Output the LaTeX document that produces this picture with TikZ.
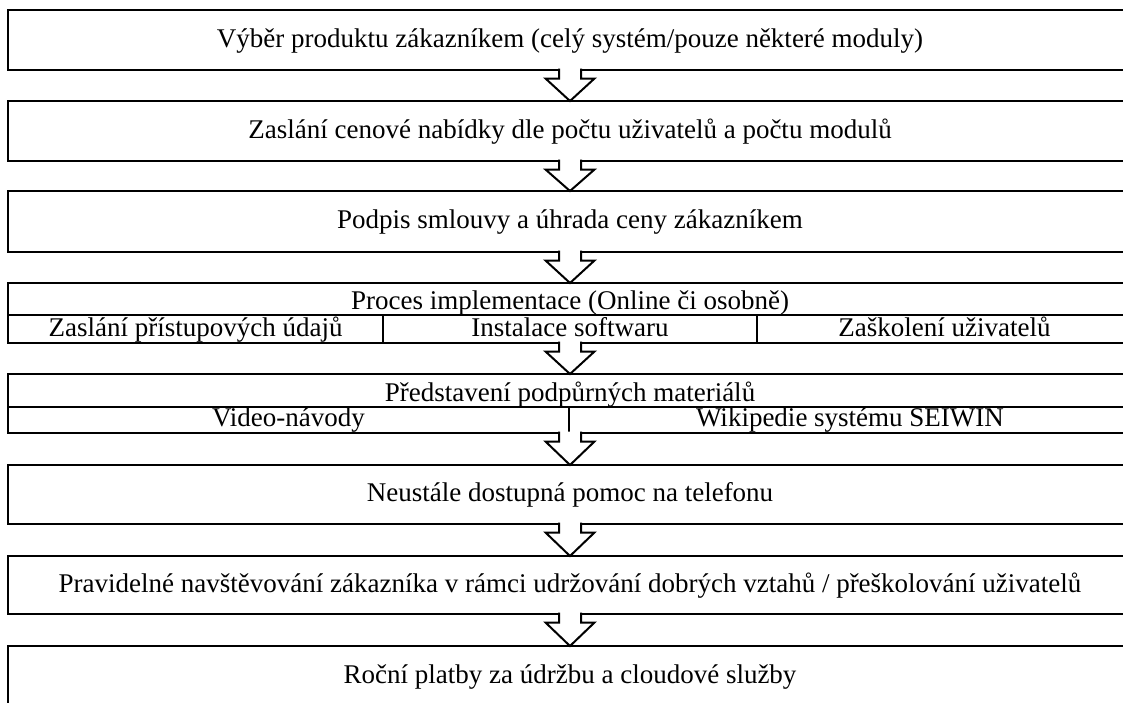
\documentclass[tikz,border=0pt]{standalone}
\usepackage{fontspec}
\setmainfont{Liberation Serif}
\usetikzlibrary{calc}
\tikzset{
  box/.style={draw, line width=2pt, minimum width=1124pt, minimum height=60pt,
    anchor=north west, inner sep=0pt, outer sep=0pt,
    font=\fontsize{27}{32}\selectfont, text height=20pt, text depth=5.4pt},
  lbl/.style={inner sep=0pt, outer sep=0pt, anchor=base, font=\fontsize{27}{32}\selectfont},
  rule/.style={line width=2pt},
  blockarrow/.style={draw, fill=white, line width=2pt, miter limit=10},
}
\newcommand{\flowarrow}[2]{%
  \draw[blockarrow] ($(#1.south)+(-11,-1.5)$) -- ($(#1.south)+(-11,8.5)$)
    -- ($(#1.south)+(-24.5,8.5)$) -- (#2.north) -- ($(#1.south)+(24.5,8.5)$)
    -- ($(#1.south)+(11,8.5)$) -- ($(#1.south)+(11,-1.5)$);}
\begin{document}
\begin{tikzpicture}[x=1pt,y=-1pt]
\useasboundingbox (0,0) rectangle (1123,702);
\clip (0,0) rectangle (1123,702);
\node[box] (b1) at (8,10) {Výběr produktu zákazníkem (celý systém/pouze některé moduly)};
\node[box] (b2) at (8,101) {Zaslání cenové nabídky dle počtu uživatelů a počtu modulů};
\node[box, minimum height=61pt] (b3) at (8,191) {Podpis smlouvy a úhrada ceny zákazníkem};
\node[box] (b4) at (8,283) {};
\node[box, minimum height=59pt] (b5) at (8,374) {};
\node[box, minimum height=59pt] (b6) at (8,465) {Neustále dostupná pomoc na telefonu};
\node[box, minimum height=58pt] (b7) at (8,556) {Pravidelné navštěvování zákazníka v rámci udržování dobrých vztahů / přeškolování uživatelů};
\node[box] (b8) at (8,646) {Roční platby za údržbu a cloudové služby};
% split box 4
\draw[rule] ($(b4.north west)+(0,32)$) coordinate (s4l) -- ($(b4.north east)+(0,32)$) coordinate (s4r);
\coordinate (d4a) at ($(s4l)+(375,0)$);
\coordinate (d4b) at ($(s4l)+(749,0)$);
\draw[rule] (d4a) -- (d4a |- b4.south);
\draw[rule] (d4b) -- (d4b |- b4.south);
\node[lbl] (t4) at ($(b4.north)+(0,26)$) {Proces implementace (Online či osobně)};
\node[lbl] (t4a) at (195.5,336) {Zaslání přístupových údajů};
\node[lbl] (t4b) at (570,336) {Instalace softwaru};
\node[lbl] (t4c) at (944.5,336) {Zaškolení uživatelů};
% split box 5
\draw[rule] ($(b5.north west)+(0,33)$) coordinate (s5l) -- ($(b5.north east)+(0,33)$) coordinate (s5r);
\coordinate (d5) at ($(s5l)+(561,0)$);
\draw[rule] (d5) -- (d5 |- b5.south);
\node[lbl] (t5) at ($(b5.north)+(0,27)$) {Představení podpůrných materiálů};
\node[lbl] (t5a) at (288.5,426) {Video-návody};
\node[lbl] (t5b) at (850,426) {Wikipedie systému SEIWIN};
% arrows
\flowarrow{b1}{b2}
\flowarrow{b2}{b3}
\flowarrow{b3}{b4}
\flowarrow{b4}{b5}
\flowarrow{b5}{b6}
\flowarrow{b6}{b7}
\flowarrow{b7}{b8}
\end{tikzpicture}
\end{document}
